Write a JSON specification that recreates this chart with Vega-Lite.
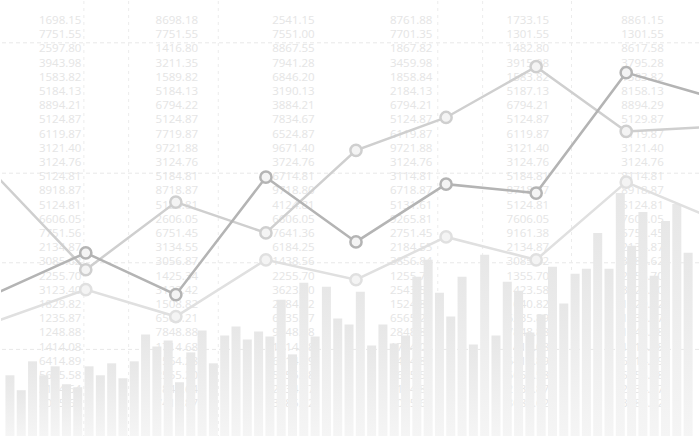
{
  "$schema": "https://vega.github.io/schema/vega-lite/v6.json",
  "width": 700,
  "height": 437,
  "autosize": {"type": "fit", "contains": "padding"},
  "padding": 0,
  "background": "#ffffff",
  "config": {"view": {"stroke": null}, "axis": {"disable": true}, "legend": {"disable": true}},
  "resolve": {"scale": {"x": "independent"}},
  "datasets": {
    "bars": [
      {"i": 0, "v": 61}, {"i": 1, "v": 46}, {"i": 2, "v": 75}, {"i": 3, "v": 61}, {"i": 4, "v": 70},
      {"i": 5, "v": 52}, {"i": 6, "v": 49}, {"i": 7, "v": 70}, {"i": 8, "v": 61}, {"i": 9, "v": 73},
      {"i": 10, "v": 58}, {"i": 11, "v": 75}, {"i": 12, "v": 102}, {"i": 13, "v": 90}, {"i": 14, "v": 96},
      {"i": 15, "v": 54}, {"i": 16, "v": 84}, {"i": 17, "v": 106}, {"i": 18, "v": 73}, {"i": 19, "v": 101},
      {"i": 20, "v": 110}, {"i": 21, "v": 97}, {"i": 22, "v": 105}, {"i": 23, "v": 100}, {"i": 24, "v": 137},
      {"i": 25, "v": 82}, {"i": 26, "v": 154}, {"i": 27, "v": 100}, {"i": 28, "v": 150}, {"i": 29, "v": 118},
      {"i": 30, "v": 112}, {"i": 31, "v": 145}, {"i": 32, "v": 91}, {"i": 33, "v": 112}, {"i": 34, "v": 93},
      {"i": 35, "v": 101}, {"i": 36, "v": 160}, {"i": 37, "v": 177}, {"i": 38, "v": 144}, {"i": 39, "v": 120},
      {"i": 40, "v": 160}, {"i": 41, "v": 92}, {"i": 42, "v": 182}, {"i": 43, "v": 101}, {"i": 44, "v": 155},
      {"i": 45, "v": 146}, {"i": 46, "v": 104}, {"i": 47, "v": 122}, {"i": 48, "v": 170}, {"i": 49, "v": 133},
      {"i": 50, "v": 163}, {"i": 51, "v": 168}, {"i": 52, "v": 204}, {"i": 53, "v": 168}, {"i": 54, "v": 244},
      {"i": 55, "v": 191}, {"i": 56, "v": 225}, {"i": 57, "v": 161}, {"i": 58, "v": 216}, {"i": 59, "v": 233},
      {"i": 60, "v": 184}
    ],
    "lines": [
      {"s": "c1", "k": 0, "v": 115}, {"s": "c1", "k": 1, "v": 147}, {"s": "c1", "k": 2, "v": 120},
      {"s": "c1", "k": 3, "v": 177}, {"s": "c1", "k": 4, "v": 157}, {"s": "c1", "k": 5, "v": 200},
      {"s": "c1", "k": 6, "v": 177}, {"s": "c1", "k": 7, "v": 255}, {"s": "c1", "k": 8, "v": 217},
      {"s": "c2", "k": 0, "v": 262}, {"s": "c2", "k": 1, "v": 167}, {"s": "c2", "k": 2, "v": 235},
      {"s": "c2", "k": 3, "v": 204}, {"s": "c2", "k": 4, "v": 287}, {"s": "c2", "k": 5, "v": 320},
      {"s": "c2", "k": 6, "v": 371}, {"s": "c2", "k": 7, "v": 306}, {"s": "c2", "k": 8, "v": 311},
      {"s": "c3", "k": 0, "v": 143}, {"s": "c3", "k": 1, "v": 184}, {"s": "c3", "k": 2, "v": 142},
      {"s": "c3", "k": 3, "v": 260}, {"s": "c3", "k": 4, "v": 195}, {"s": "c3", "k": 5, "v": 253},
      {"s": "c3", "k": 6, "v": 244}, {"s": "c3", "k": 7, "v": 365}, {"s": "c3", "k": 8, "v": 339}
    ],
    "cols": [
      {"c": 2.96, "txt": "1698.15\n7751.55\n2597.80\n3943.98\n1583.82\n5184.13\n8894.21\n5124.87\n6119.87\n3121.40\n3124.76\n5124.81\n8918.87\n5124.81\n6606.05\n7751.56\n2134.87\n3085.62\n2255.70\n3123.40\n1829.82\n1235.87\n1248.88\n1414.08\n6414.89\n5655.58\n2134.64\n3085.62"},
      {"c": 13.13, "txt": "8698.18\n7751.55\n1416.80\n3211.35\n1589.82\n5184.13\n6794.22\n5124.87\n7719.87\n9721.88\n3124.76\n5184.81\n8718.87\n5124.81\n2606.05\n6751.45\n3134.55\n3056.87\n1425.34\n3122.42\n1508.82\n6565.21\n7848.88\n1714.68\n1564.28\n2555.20\n1841.64\n7418.87"},
      {"c": 23.3, "txt": "2541.15\n7551.00\n8867.55\n7941.28\n6846.20\n3190.13\n3884.21\n7834.67\n6524.87\n9671.40\n3724.76\n6714.81\n9718.80\n4124.81\n6606.05\n7641.36\n6184.25\n1438.56\n2255.70\n3623.40\n2884.82\n6235.87\n9248.88\n1414.08\n6414.89\n5655.58\n2134.87\n3085.62"},
      {"c": 33.57, "txt": "8761.88\n7701.35\n1867.82\n3459.98\n1858.84\n2184.13\n6794.21\n5124.87\n6119.87\n9721.88\n3124.76\n3114.81\n6718.87\n5131.61\n9265.81\n2751.45\n2184.55\n3856.84\n1255.70\n2543.58\n1524.82\n6565.21\n2848.88\n1714.08\n6414.89\n5655.58\n2134.87\n3085.62"},
      {"c": 43.74, "txt": "1733.15\n1301.55\n1482.80\n3915.98\n1583.82\n5187.13\n6794.21\n5124.87\n6119.87\n3121.40\n3124.76\n5184.81\n8718.87\n5124.81\n7606.05\n9161.38\n2134.87\n3085.62\n1355.70\n1423.58\n1640.82\n6235.89\n7848.88\n1414.08\n6414.89\n5655.58\n2134.87\n3085.62"},
      {"c": 53.74, "txt": "8861.15\n1301.55\n8617.58\n3795.28\n1583.82\n8158.13\n8894.29\n5129.87\n6119.87\n3121.40\n3124.76\n8114.81\n8918.87\n5124.81\n7606.05\n5751.45\n2134.87\n3085.62\n2255.70\n3123.40\n1829.82\n1235.87\n1248.88\n1414.08\n6414.89\n5655.58\n2134.87\n3085.62"}
    ],
    "hgrid": [{"g": 395}, {"g": 264}, {"g": 174}, {"g": 87}],
    "vgrid": [{"g": 6.88}, {"g": 10.78}, {"g": 18.6}, {"g": 37.74}, {"g": 41.65}, {"g": 49.4}]
  },
  "layer": [
    {
      "mark": {"type": "rect", "fill": {"gradient": "linear", "x1": 0, "y1": 0, "x2": 0, "y2": 1,
        "stops": [{"offset": 0, "color": "#efefef"}, {"offset": 0.6, "color": "#f4f4f4"}, {"offset": 1, "color": "#ffffff"}]}},
      "encoding": {
        "x": {"datum": -0.348, "type": "quantitative", "scale": {"domain": [-0.348, 60.52], "nice": false, "zero": false}},
        "x2": {"datum": 60.52},
        "y": {"datum": 0, "type": "quantitative", "scale": {"domain": [0, 437], "nice": false, "zero": false}},
        "y2": {"datum": 437}
      }
    },
    {
      "data": {"name": "hgrid"},
      "mark": {"type": "rule", "stroke": "#e8e8e8", "strokeWidth": 1, "strokeDash": [4, 3]},
      "encoding": {
        "y": {"field": "g", "type": "quantitative", "scale": {"domain": [0, 437], "nice": false, "zero": false}}
      }
    },
    {
      "data": {"name": "vgrid"},
      "mark": {"type": "rule", "stroke": "#ececec", "strokeWidth": 1, "strokeDash": [3, 4]},
      "encoding": {
        "x": {"field": "g", "type": "quantitative", "scale": {"domain": [-0.348, 60.52], "nice": false, "zero": false}}
      }
    },
    {
      "data": {"name": "cols"},
      "mark": {"type": "text", "align": "left", "baseline": "top", "font": "Open Sans", "fontSize": 11.5, "lineBreak": "\n", "lineHeight": 14.2, "color": "#e5e5e5"},
      "encoding": {
        "x": {"field": "c", "type": "quantitative", "scale": {"domain": [-0.348, 60.52], "nice": false, "zero": false}},
        "y": {"datum": 423, "type": "quantitative", "scale": {"domain": [0, 437], "nice": false, "zero": false}},
        "text": {"field": "txt"}
      }
    },
    {
      "data": {"name": "bars"},
      "mark": {"type": "bar", "width": 9, "fill": {"gradient": "linear", "x1": 0, "y1": 0, "x2": 0, "y2": 1,
        "stops": [{"offset": 0, "color": "#e7e7e7"}, {"offset": 1, "color": "#f5f5f5"}]}},
      "encoding": {
        "x": {"field": "i", "type": "quantitative", "scale": {"domain": [-0.348, 60.52], "nice": false, "zero": false}},
        "y": {"field": "v", "type": "quantitative", "scale": {"domain": [0, 437], "nice": false, "zero": false}},
        "y2": {"datum": 0}
      }
    },
    {
      "mark": {"type": "rect", "fill": {"gradient": "linear", "x1": 0, "y1": 0, "x2": 0, "y2": 1,
        "stops": [{"offset": 0, "color": "rgba(255,255,255,0)"}, {"offset": 0.4, "color": "rgba(255,255,255,0.55)"}, {"offset": 0.72, "color": "rgba(255,255,255,0.95)"}, {"offset": 1, "color": "#ffffff"}]}},
      "encoding": {
        "x": {"datum": -0.348, "type": "quantitative", "scale": {"domain": [-0.348, 60.52], "nice": false, "zero": false}},
        "x2": {"datum": 60.52},
        "y": {"datum": 0, "type": "quantitative", "scale": {"domain": [0, 437], "nice": false, "zero": false}},
        "y2": {"datum": 125}
      }
    },
    {
      "data": {"name": "lines"},
      "mark": {"type": "line", "strokeWidth": 2.5, "clip": true},
      "encoding": {
        "x": {"field": "k", "type": "quantitative", "scale": {"domain": [0.059, 7.808], "nice": false, "zero": false}},
        "y": {"field": "v", "type": "quantitative", "scale": {"domain": [0, 437], "nice": false, "zero": false}},
        "stroke": {"field": "s", "type": "nominal", "scale": {"domain": ["c1", "c2", "c3"], "range": ["#e0e0e0", "#cfcfcf", "#b4b4b4"]}, "legend": null},
        "order": {"field": "k"}
      }
    },
    {
      "data": {"name": "lines"},
      "transform": [{"filter": "datum.k >= 1 && datum.k <= 7"}],
      "mark": {"type": "point", "shape": "circle", "filled": true, "fill": "#f4f4f4", "fillOpacity": 1, "size": 125, "strokeWidth": 2.5, "opacity": 1, "clip": true},
      "encoding": {
        "x": {"field": "k", "type": "quantitative", "scale": {"domain": [0.059, 7.808], "nice": false, "zero": false}},
        "y": {"field": "v", "type": "quantitative", "scale": {"domain": [0, 437], "nice": false, "zero": false}},
        "stroke": {"field": "s", "type": "nominal", "scale": {"domain": ["c1", "c2", "c3"], "range": ["#e0e0e0", "#cfcfcf", "#b4b4b4"]}, "legend": null}
      }
    }
  ]
}
